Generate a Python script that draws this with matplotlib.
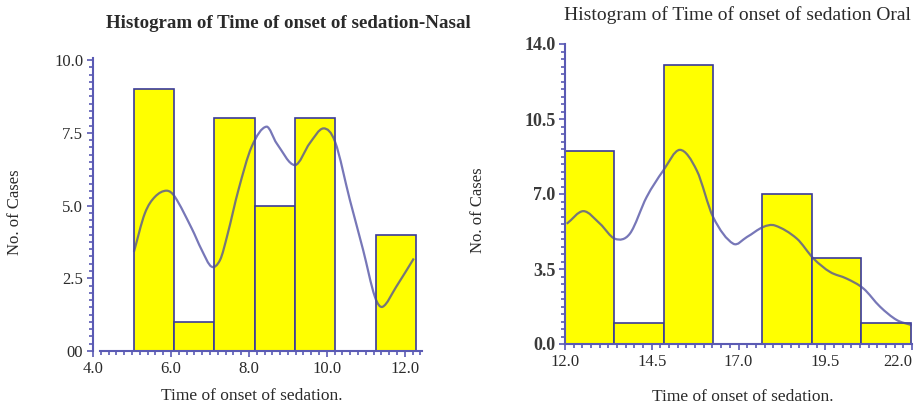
import matplotlib
matplotlib.use("Agg")
import matplotlib.pyplot as plt
from matplotlib.path import Path
from matplotlib.patches import PathPatch
from matplotlib.ticker import MultipleLocator, FixedLocator, FixedFormatter

plt.rcParams['font.family'] = ['Liberation Serif', 'DejaVu Serif']

# Nasal histogram
nasal_edges = [5.05, 6.08, 7.10, 8.15, 9.18, 10.20, 11.26, 12.28]
nasal_counts = [9, 1, 8, 5, 8, 0, 4]
nasal_curve_x = [5.05, 5.33, 5.59, 5.89, 6.10, 6.53, 6.79, 7.04, 7.26, 7.45, 7.73, 8.07, 8.45,
                 8.71, 9.18, 9.56, 9.91, 10.21, 10.59, 10.93, 11.23, 11.43, 11.78, 12.23]
nasal_curve_y = [3.41, 4.73, 5.30, 5.51, 5.30, 4.22, 3.47, 2.90, 3.13, 4.00, 5.53, 7.02, 7.71,
                 7.14, 6.39, 7.14, 7.65, 7.19, 5.19, 3.47, 1.87, 1.52, 2.21, 3.18]
nasal_yticks = [0, 2.5, 5.0, 7.5, 10.0]
nasal_ylabels = ["00", "2.5", "5.0", "7.5", "10.0"]
nasal_xticks = [4.0, 6.0, 8.0, 10.0, 12.0]
nasal_xlabels = ["4.0", "6.0", "8.0", "10.0", "12.0"]

# Oral histogram
oral_edges = [12.0, 13.42, 14.84, 16.27, 17.69, 19.11, 20.53, 21.96]
oral_counts = [9, 1, 13, 0, 7, 4, 1]
oral_curve_x = [12.05, 12.53, 13.01, 13.44, 13.87, 14.35, 14.83, 15.31, 15.80, 16.27,
                16.85, 17.24, 17.71, 18.05, 18.68, 19.16, 19.64, 20.12, 20.60, 21.08,
                21.56, 21.99]
oral_curve_y = [5.61, 6.20, 5.61, 4.91, 5.15, 6.85, 8.09, 9.06, 8.09, 5.92,
                4.68, 4.99, 5.46, 5.53, 4.92, 3.99, 3.36, 3.05, 2.59, 1.74,
                1.12, 0.88]
oral_yticks = [0, 3.5, 7.0, 10.5, 14.0]
oral_ylabels = ["0.0", "3.5", "7.0", "10.5", "14.0"]
oral_xticks = [12.0, 14.5, 17.0, 19.5, 22.0]
oral_xlabels = ["12.0", "14.5", "17.0", "19.5", "22.0"]

axis_col = "#5a5ab4"
edge_col = "#3a3a9a"
curve_col = "#4a4aa0"
text_col = "#2a2a2a"

W, H = 914, 409
fig = plt.figure(figsize=(W / 100, H / 100), dpi=100)


def smooth(ax, xs, ys):
    # cubic Hermite through the read points, drawn as Bezier segments
    n = len(xs)
    m = []
    for i in range(n):
        a, b = max(i - 1, 0), min(i + 1, n - 1)
        m.append((ys[b] - ys[a]) / (xs[b] - xs[a]))
    verts = [(xs[0], ys[0])]
    codes = [Path.MOVETO]
    for i in range(n - 1):
        d = (xs[i + 1] - xs[i]) / 3
        verts += [(xs[i] + d, ys[i] + m[i] * d),
                  (xs[i + 1] - d, ys[i + 1] - m[i + 1] * d),
                  (xs[i + 1], ys[i + 1])]
        codes += [Path.CURVE4] * 3
    ax.add_patch(PathPatch(Path(verts, codes), fill=False, edgecolor=curve_col,
                           lw=1.6, alpha=0.75, zorder=4))


def panel(rect, edges, counts, cx, cy, xlim, ylim, xt, xl, yt, yl,
          xminor, yminor, xstart, ybold):
    ax = fig.add_axes(rect)
    widths = [edges[i + 1] - edges[i] for i in range(len(counts))]
    ax.bar(edges[:-1], counts, width=widths, align='edge', color='#ffff00',
           edgecolor=edge_col, linewidth=1.2, zorder=2)
    smooth(ax, cx, cy)
    ax.set_xlim(*xlim)
    ax.set_ylim(*ylim)
    for s in ['top', 'right']:
        ax.spines[s].set_visible(False)
    for s in ['left', 'bottom']:
        ax.spines[s].set_color(axis_col)
        ax.spines[s].set_linewidth(1.5)
    ax.spines['bottom'].set_bounds(xstart, xlim[1])
    ax.xaxis.set_major_locator(FixedLocator(xt))
    ax.xaxis.set_major_formatter(FixedFormatter(xl))
    ax.yaxis.set_major_locator(FixedLocator(yt))
    ax.yaxis.set_major_formatter(FixedFormatter(yl))
    ax.xaxis.set_minor_locator(MultipleLocator(xminor))
    ax.yaxis.set_minor_locator(MultipleLocator(yminor))
    ax.tick_params(which='both', color=axis_col, direction='out', width=1.2)
    ax.tick_params(which='major', length=4, labelsize=12, labelcolor=text_col, pad=3)
    ax.tick_params(which='minor', length=3)
    if ybold:
        for t in ax.get_yticklabels():
            t.set_fontweight('bold')
            t.set_fontsize(13)
            t.set_color('#3a3a3a')
    ax.set_facecolor('none')
    return ax


panel([93 / W, 58 / H, 329 / W, 293 / H], nasal_edges, nasal_counts,
      nasal_curve_x, nasal_curve_y, (4.0, 12.44), (0, 10.07),
      nasal_xticks, nasal_xlabels, nasal_yticks, nasal_ylabels,
      0.2, 0.25, 4.18, False)

ax2 = panel([565 / W, 65 / H, 347 / W, 300 / H], oral_edges, oral_counts,
            oral_curve_x, oral_curve_y, (12.0, 22.0), (0, 14.0),
            oral_xticks, oral_xlabels, oral_yticks, oral_ylabels,
            0.25, 0.35, 12.0, True)
ax2.get_xticklabels()[-1].set_horizontalalignment('right')

fig.text(288 / W, 1 - 23 / H, "Histogram of Time of onset of sedation-Nasal",
         ha='center', va='center', fontsize=13.6, fontweight='bold', color=text_col)
fig.text(737 / W, 1 - 15 / H, "Histogram of Time of onset of sedation Oral",
         ha='center', va='center', fontsize=14, color=text_col)

fig.text(15 / W, 1 - 212 / H, "No. of Cases", rotation=90, ha='center',
         va='center', fontsize=12, color=text_col)
fig.text(478 / W, 1 - 210 / H, "No. of Cases", rotation=90, ha='center',
         va='center', fontsize=12, color=text_col)
fig.text(252 / W, 1 - 396 / H, "Time of onset of sedation.", ha='center',
         va='center', fontsize=12.5, color=text_col)
fig.text(743 / W, 1 - 397 / H, "Time of onset of sedation.", ha='center',
         va='center', fontsize=12.5, color=text_col)

plt.savefig("out.png", dpi=100)
